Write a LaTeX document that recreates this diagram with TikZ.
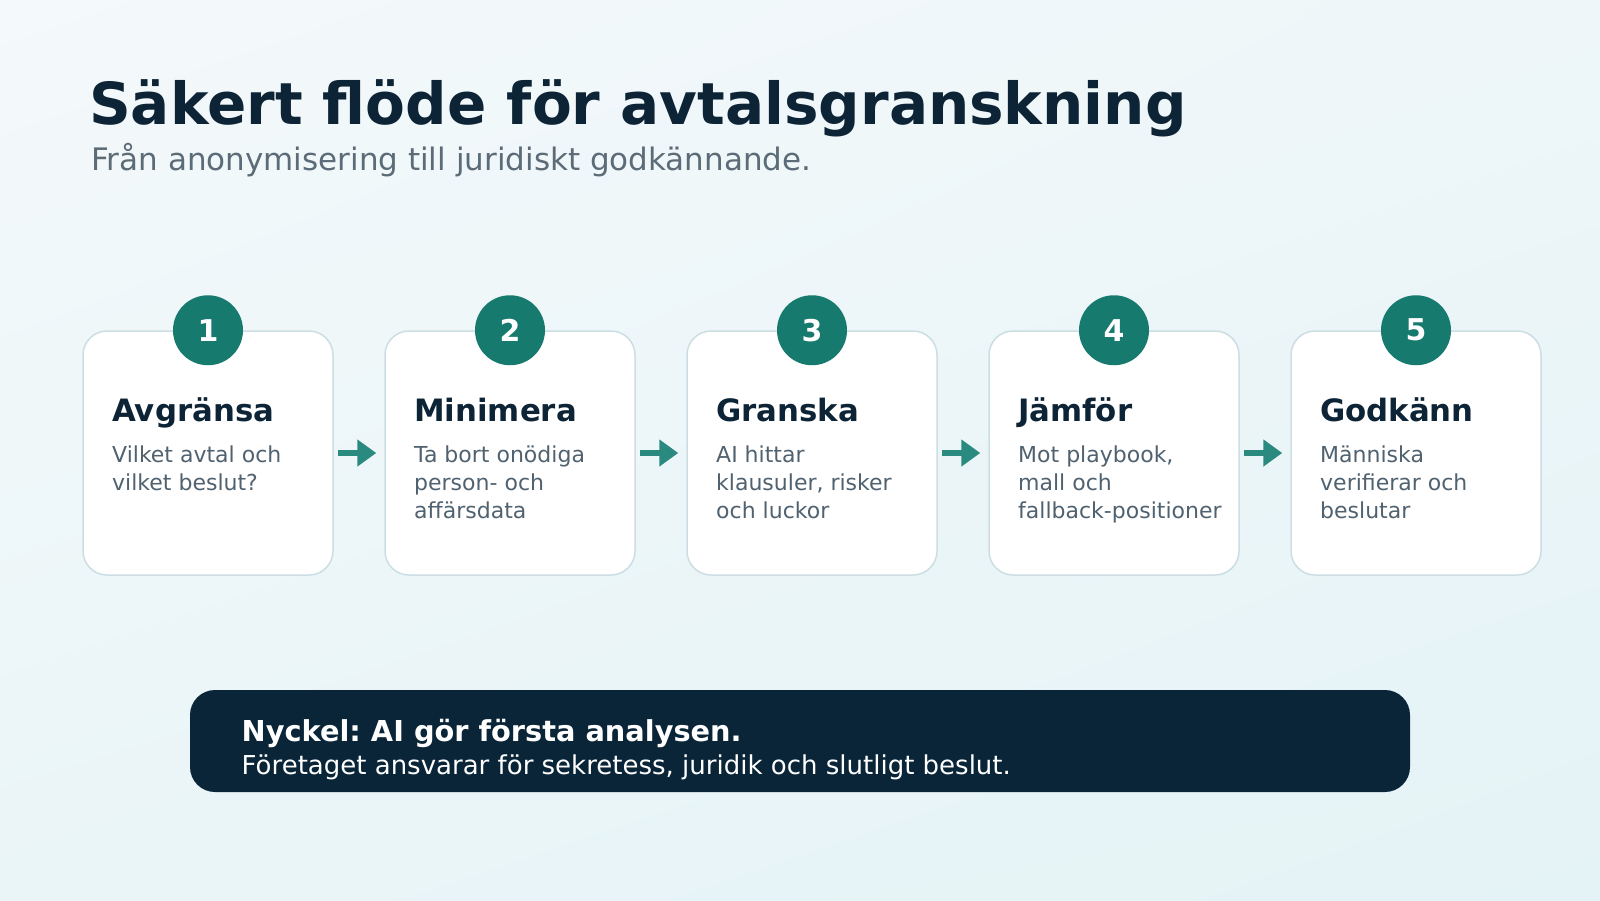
\documentclass[tikz,border=0pt]{standalone}
\usepackage{fontspec}
\setmainfont{DejaVu Sans}
\usetikzlibrary{arrows.meta,shadings}
\frenchspacing
\definecolor{bgA}{HTML}{F4F9FB}
\definecolor{bgB}{HTML}{EEF6F9}
\definecolor{bgC}{HTML}{EAF5F7}
\definecolor{bgD}{HTML}{E4F3F6}
\definecolor{ink}{HTML}{0D2436}
\definecolor{subink}{HTML}{5B6B77}
\definecolor{bodyink}{HTML}{506270}
\definecolor{cardline}{HTML}{CCDEE4}
\definecolor{badgeteal}{HTML}{167A6E}
\definecolor{arrowteal}{HTML}{2A8A80}
\definecolor{keydark}{HTML}{0B2538}
\newcommand{\cardlines}[1]{\begin{tabular}[t]{@{}l@{}}#1\end{tabular}}
\tikzset{
  card/.style={draw=cardline, line width=1.5pt, fill=white, rounded corners=24pt,
    minimum width=250pt, minimum height=244pt, inner sep=0pt},
  badge/.style={circle, fill=badgeteal, minimum size=70pt, inner sep=0pt,
    text=white, font=\fontsize{30}{36}\selectfont\bfseries},
  head/.style={anchor=base west, inner sep=0pt, text=ink,
    font=\fontsize{30.8}{36}\selectfont\bfseries},
  body/.style={anchor=base west, inner sep=0pt, text=bodyink,
    font=\fontsize{22}{28}\selectfont},
  flow/.style={draw=arrowteal, line width=6.5pt,
    -{Triangle[length=19pt,width=26pt]}, shorten <=4pt, shorten >=8pt},
  keybox/.style={fill=keydark, rounded corners=25pt, minimum width=1220pt,
    minimum height=102pt, inner sep=0pt}
}
\begin{document}
\begin{tikzpicture}[x=1pt,y=-1pt]
\useasboundingbox (0,0) rectangle (1600,900);
\shade[upper left=bgA, upper right=bgB, lower left=bgC, lower right=bgD] (0,0) rectangle (1600,900);

\node[anchor=base west, inner sep=0pt, text=ink, font=\fontsize{58}{70}\selectfont\bfseries] (title) at (89,124.5) {Säkert flöde för avtalsgranskning};
\node[anchor=base west, inner sep=0pt, text=subink, font=\fontsize{31}{36}\selectfont] (subtitle) at (91,170) {Från anonymisering till juridiskt godkännande.};

% cards
\foreach \i/\hd/\bd in {1/Avgränsa/{Vilket avtal och\\vilket beslut?},
                        2/Minimera/{Ta bort onödiga\\person- och\\affärsdata},
                        3/Granska/{AI hittar\\klausuler, risker\\och luckor},
                        4/Jämför/{Mot playbook,\\mall och\\fallback-positioner},
                        5/Godkänn/{Människa\\verifierar och\\beslutar}}{
  \pgfmathsetmacro{\cx}{208+302*(\i-1)}
  \node[card] (c\i) at (\cx,453) {};
  \node[badge] (b\i) at (c\i.north) {\i};
  \node[head] (h\i) at (\cx-96,421.7) {\hd};
  \node[body] (t\i) at (\cx-96,462.7) {\cardlines{\bd}};
}

\draw[flow] (c1.east) -- (c2.west);
\draw[flow] (c2.east) -- (c3.west);
\draw[flow] (c3.east) -- (c4.west);
\draw[flow] (c4.east) -- (c5.west);

\node[keybox] (key) at (800,741) {};
\node[anchor=base west, inner sep=0pt, text=white, font=\fontsize{28.8}{34}\selectfont\bfseries] (k1) at (241.5,741.5) {Nyckel: AI gör första analysen.};
\node[anchor=base west, inner sep=0pt, text=white, font=\fontsize{26}{30}\selectfont] (k2) at (241.5,774) {Företaget ansvarar för sekretess, juridik och slutligt beslut.};
\end{tikzpicture}
\end{document}
